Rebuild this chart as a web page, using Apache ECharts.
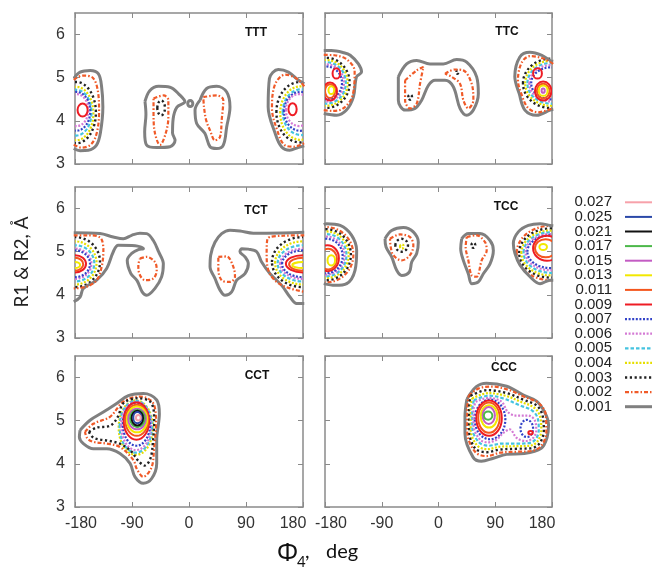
<!DOCTYPE html>
<html>
<head>
<meta charset="utf-8">
<script src="https://cdn.jsdelivr.net/npm/echarts@6/dist/echarts.min.js"></script>
<style>
  html, body { margin: 0; padding: 0; background: #fff; }
  #chart { width: 652px; height: 571px; }
</style>
</head>
<body>
<div id="chart"></div>
<script>
// contour levels, as in the legend (top to bottom)
const levels = [0.027, 0.025, 0.021, 0.017, 0.015, 0.013, 0.011, 0.009, 0.007, 0.006, 0.005, 0.004, 0.003, 0.002, 0.001];
const levelColors = ['#f7a1aa', '#2a48a8', '#111111', '#4cb84a', '#c35cc3', '#f2e800', '#f4561e', '#ee1c24',
                     '#3343c8', '#d47ad4', '#45c3e0', '#e6df00', '#222222', '#f05a28', '#808080'];
const levelDashes = [null, null, null, null, null, null, null, null,
                     [2, 1.6], [2, 1.6], [3.5, 2], [2, 1.6], [2.2, 2.6], [4, 2, 1.5, 2], null];
const levelWidths = [2, 2, 2, 2, 2, 2, 2, 2, 2.2, 2.2, 2.2, 2.2, 2.4, 2.2, 3];

const panelNames = ['TTT', 'TTC', 'TCT', 'TCC', 'CCT', 'CCC'];
const phiTicks = [-180, -90, 0, 90, 180];
const rTicks = [3, 4, 5, 6];
const rMax = 6.5;

// contour lines: [level, [[phi, r], ...]]
// lines that start beyond +-180 run off the panel edge and stay open
const tttLines = [
  [0.001, [[-182, 4.98], [-172, 5.13], [-156, 5.17], [-143, 5.09], [-138, 4.79], [-136, 4.32], [-140, 3.71], [-146, 3.44], [-159, 3.32], [-172, 3.31], [-182, 3.36]]],
  [0.002, [[-182, 4.95], [-168, 5.05], [-152, 5.0], [-144, 4.7], [-142, 4.2], [-146, 3.7], [-155, 3.45], [-170, 3.38], [-182, 3.45]]],
  [0.001, [[-69.5, 4.45], [-62, 4.7], [-48, 4.8], [-30, 4.78], [-16, 4.62], [-6.5, 4.44], [-19, 4.32], [-25, 4.05], [-26, 3.72], [-22, 3.55], [-30, 3.4], [-51, 3.38], [-67, 3.44], [-70, 3.75], [-68, 4.15]]],
  [0.002, [[-56, 4.52], [-40, 4.59], [-32.6, 4.48], [-32.6, 4.09], [-36.8, 3.71], [-45.8, 3.44], [-53.7, 3.71], [-56, 4.17]]],
  [0.001, [[17.4, 4.48], [27.9, 4.75], [43.7, 4.8], [59.5, 4.67], [64.7, 4.32], [59.5, 3.86], [54.2, 3.44], [43.7, 3.36], [33.2, 3.4], [25, 3.71], [12.1, 3.94], [9.5, 4.25]]],
  [0.002, [[22.6, 4.55], [43.7, 4.59], [54.2, 4.48], [51.6, 4.02], [49, 3.63], [41, 3.55], [33.2, 3.78], [27, 4.02], [23.7, 4.32]]],
  [0.001, [[182, 4.86], [173, 4.94], [157, 5.13], [141, 5.19], [127, 4.98], [125, 4.32], [136, 3.71], [146, 3.4], [159, 3.32], [172, 3.38], [182, 3.42]]],
  [0.002, [[182, 4.8], [170, 4.98], [152, 5.07], [136, 4.85], [131, 4.3], [140, 3.75], [150, 3.45], [165, 3.4], [182, 3.48]]]
];
const ttcLines = [
  [0.001, [[-182, 5.63], [-170, 5.63], [-150, 5.58], [-140, 5.52], [-127, 5.32], [-122, 5.13], [-130, 5.02], [-135, 4.55], [-146, 4.25], [-161.5, 4.13], [-182, 4.17]]],
  [0.002, [[-182, 5.53], [-165, 5.52], [-145, 5.42], [-133, 5.15], [-136, 4.6], [-150, 4.3], [-167, 4.23], [-182, 4.25]]],
  [0.001, [[-63.7, 5.02], [-50.5, 5.32], [-34.6, 5.4], [-13.5, 5.32], [7.7, 5.32], [28.8, 5.42], [44.7, 5.36], [60.5, 5.02], [63.2, 4.63], [55.3, 4.25], [44.7, 4.13], [34.1, 4.29], [23.5, 4.79], [10.3, 4.94], [-5.5, 4.94], [-16.1, 4.82], [-26.7, 4.48], [-37.2, 4.29], [-53, 4.25], [-63.7, 4.48]]],
  [0.002, [[-53, 4.94], [-34.6, 5.17], [-24, 5.25], [-29.3, 4.86], [-34.6, 4.4], [-45.2, 4.29], [-53, 4.48]]],
  [0.002, [[10.3, 5.09], [26.2, 5.19], [39.4, 5.17], [52.6, 4.86], [55.3, 4.48], [47.3, 4.29], [39.4, 4.48], [34.1, 4.86], [20.9, 5.02]]],
  [0.001, [[182, 5.38], [177, 5.4], [164, 5.52], [145, 5.59], [129, 5.48], [121, 5.02], [128, 4.63], [137, 4.25], [155.7, 4.13], [177, 4.25], [182, 4.27]]],
  [0.002, [[182, 5.32], [165, 5.45], [145, 5.5], [132, 5.35], [126, 4.95], [132, 4.6], [142, 4.3], [158, 4.2], [182, 4.3]]]
];
const tctLines = [
  [0.001, [[-182, 5.44], [-140.5, 5.42], [-119.5, 5.34], [-103.7, 5.3], [-90.5, 5.38], [-77.4, 5.43], [-66.8, 5.42], [-56.3, 5.26], [-48, 5.0], [-40.5, 4.72], [-43.2, 4.42], [-53.7, 4.15], [-66.8, 3.99], [-74, 4.07], [-82, 4.33], [-92, 4.5], [-97.5, 4.8], [-90.5, 4.96], [-80, 5.05], [-72, 5.07], [-85, 5.14], [-111.6, 5.15], [-119.5, 5.0], [-130, 4.61], [-145.8, 4.34], [-166.8, 4.15], [-172, 3.95], [-182, 3.84]]],
  [0.002, [[-182, 5.38], [-161.5, 5.38], [-140.5, 5.33], [-135.2, 5.03], [-137.9, 4.65], [-145.8, 4.34], [-161.5, 4.19], [-182, 4.15]]],
  [0.002, [[-77.4, 4.84], [-66.8, 4.88], [-53.7, 4.76], [-51, 4.57], [-56.3, 4.38], [-69.5, 4.34], [-78.4, 4.49], [-80, 4.69]]],
  [0.001, [[182, 5.45], [122.6, 5.43], [101.6, 5.43], [80.5, 5.48], [64.7, 5.5], [51.6, 5.42], [41, 5.22], [34.2, 4.92], [33.2, 4.65], [41, 4.38], [49, 4.11], [56.9, 3.99], [67.4, 4.07], [75.3, 4.34], [88.4, 4.49], [93.7, 4.72], [88.4, 4.88], [80.5, 5.0], [83.2, 5.07], [93.7, 5.06], [106.9, 5.0], [114.7, 4.76], [128, 4.49], [146.3, 4.22], [159.5, 3.95], [170, 3.8], [182, 3.8]]],
  [0.002, [[46.3, 4.88], [59.5, 4.89], [70, 4.65], [72.6, 4.42], [64.7, 4.3], [51.6, 4.34], [46.3, 4.61]]],
  [0.002, [[182, 5.38], [149, 5.37], [124, 5.3], [122.6, 4.96], [125.3, 4.57], [138.4, 4.3], [159.5, 4.15], [182, 4.07]]]
];
const tccLines = [
  [0.001, [[-182, 5.63], [-177.3, 5.65], [-156, 5.61], [-137.7, 5.38], [-129.8, 5.03], [-132.4, 4.57], [-145.6, 4.26], [-164, 4.22], [-182, 4.26]]],
  [0.001, [[-84.8, 5.3], [-74.3, 5.49], [-55.7, 5.56], [-40, 5.46], [-32, 5.22], [-34.6, 4.96], [-42.5, 4.76], [-46.2, 4.53], [-58.4, 4.45], [-66.3, 4.57], [-74.3, 4.88], [-83.2, 5.11]]],
  [0.002, [[-76.9, 5.3], [-61, 5.4], [-45.2, 5.34], [-39.9, 5.15], [-45.2, 4.92], [-58.4, 4.8], [-71.6, 4.92], [-75.8, 5.11]]],
  [0.001, [[36.8, 5.3], [47.3, 5.42], [65.8, 5.42], [81.7, 5.26], [87, 5.03], [81.7, 4.72], [71.1, 4.49], [63.2, 4.3], [52.6, 4.26], [47.3, 4.49], [39.4, 4.8], [35.2, 5.07]]],
  [0.002, [[44.7, 5.34], [60.5, 5.38], [73.8, 5.22], [76.4, 5.03], [68.5, 4.8], [60.5, 4.42], [52.6, 4.45], [47.3, 4.8], [43.1, 5.11]]],
  [0.001, [[182, 5.6], [176.8, 5.61], [161, 5.65], [142.5, 5.61], [126.6, 5.46], [118.7, 5.19], [121.3, 4.96], [129.3, 4.69], [145.1, 4.42], [161, 4.26], [176.8, 4.34], [182, 4.34]]]
];
const cctLines = [
  [0.001, [[-172, 4.78], [-156.3, 5.01], [-135.2, 5.2], [-114.2, 5.4], [-95.8, 5.58], [-72.1, 5.63], [-51, 5.48], [-46.8, 5.16], [-51, 4.55], [-51, 4.01], [-58.9, 3.66], [-72.1, 3.55], [-85.3, 3.7], [-93.1, 4.01], [-109, 4.24], [-130, 4.35], [-151, 4.35], [-166.8, 4.47], [-173.1, 4.62]]],
  [0.002, [[-164.2, 4.74], [-151, 4.93], [-124.7, 5.09], [-103.7, 5.44], [-77.4, 5.56], [-56.3, 5.4], [-52, 4.93], [-55, 4.39], [-58.9, 3.93], [-72.1, 3.7], [-82.6, 3.89], [-87.9, 4.09], [-109, 4.39], [-130, 4.47], [-151, 4.51], [-160.5, 4.59]]],
  [0.003, [[-158, 4.74], [-146, 4.84], [-125, 4.88], [-112, 5.1], [-104, 5.4], [-82, 5.52], [-60, 5.42], [-55, 5.0], [-57, 4.5], [-61, 4.12], [-70, 3.96], [-80, 4.07], [-92, 4.3], [-108, 4.46], [-125, 4.53], [-150, 4.6]]]
];
const cccLines = [
  [0.001, [[45, 5.5], [60, 5.79], [76, 5.87], [108, 5.8], [134, 5.6], [156, 5.45], [169, 5.18], [174.5, 4.9], [172, 4.6], [163, 4.36], [136, 4.24], [108, 4.22], [87, 4.13], [68, 4.06], [55, 4.15], [42, 4.7], [42, 5.1]]],
  [0.002, [[48, 5.58], [64, 5.75], [86, 5.79], [112, 5.71], [138, 5.54], [158, 5.42], [170, 5.15], [171, 4.74], [163, 4.42], [148, 4.3], [124, 4.28], [98, 4.26], [76, 4.18], [58, 4.28], [45.5, 4.75], [45.5, 5.25]]],
  [0.003, [[51, 5.58], [78, 5.71], [108, 5.64], [136, 5.48], [156, 5.35], [165, 5.12], [167, 4.78], [160, 4.47], [146, 4.36], [124, 4.35], [97, 4.33], [77, 4.27], [58, 4.36], [48.5, 4.8], [48.5, 5.28]]],
  [0.004, [[53.5, 5.52], [80, 5.64], [106, 5.58], [132, 5.43], [152, 5.3], [161, 5.1], [163, 4.79], [157, 4.52], [145, 4.42], [124, 4.41], [98, 4.4], [78, 4.34], [61, 4.43], [51, 4.82], [51, 5.27]]],
  [0.005, [[56, 5.47], [80, 5.58], [104, 5.51], [128, 5.36], [148, 5.24], [157, 5.07], [159, 4.79], [154, 4.57], [143, 4.48], [124, 4.47], [100, 4.47], [80, 4.42], [64, 4.5], [53.5, 4.85], [53.5, 5.25]]],
  [0.006, [[59, 5.44], [80, 5.53], [100, 5.44], [110, 5.2], [124, 5.12], [142, 5.12], [153, 5.0], [155, 4.77], [150, 4.6], [138, 4.53], [124, 4.6], [113, 4.8], [103, 4.72], [92, 4.56], [78, 4.5], [66, 4.56], [55.5, 4.9], [55.5, 5.25]]]
];

// small, nearly oval contours: [level, phi centre, r centre, phi half-width, r half-height]
const tttRings = [
  [0.003, -178, 4.19, 31, 0.71], [0.004, -178, 4.17, 27, 0.62], [0.005, -178, 4.19, 24, 0.53],
  [0.007, -178, 4.22, 22, 0.45], [0.006, -177, 4.25, 18, 0.37], [0.009, -168, 4.25, 8, 0.15],
  [0.003, -44, 4.3, 6, 0.17], [0.001, 2, 4.4, 4, 0.07],
  [0.003, 175, 4.2, 37, 0.7], [0.004, 176, 4.18, 32, 0.62], [0.005, 177, 4.2, 29, 0.53],
  [0.007, 176, 4.22, 26, 0.45], [0.006, 174, 4.25, 21, 0.37], [0.009, 163.5, 4.27, 6.5, 0.14]
];
const ttcRings = [
  [0.003, -178, 4.88, 37, 0.58], [0.004, -178, 4.88, 34, 0.53], [0.005, -178, 4.88, 31, 0.48],
  [0.006, -178, 4.88, 28, 0.43], [0.007, -178, 4.88, 25, 0.38],
  [0.009, -162, 5.1, 6, 0.12], [0.009, -172, 4.68, 11, 0.21], [0.011, -172, 4.69, 8, 0.16], [0.013, -170, 4.71, 4.5, 0.09],
  [0.003, -45, 4.55, 3, 0.06], [0.003, 30, 5.13, 1.5, 0.04],
  [0.003, 178, 4.87, 44, 0.57], [0.004, 178, 4.87, 40.5, 0.52], [0.005, 178, 4.87, 37, 0.47],
  [0.006, 178, 4.87, 34, 0.42], [0.007, 178, 4.87, 31, 0.37],
  [0.009, 157, 5.1, 7, 0.12], [0.009, 166, 4.69, 13, 0.22], [0.011, 166, 4.69, 10, 0.17],
  [0.013, 166, 4.7, 7, 0.12], [0.015, 166, 4.7, 2.5, 0.05]
];
const tctRings = [
  [0.003, -180, 4.76, 39.5, 0.58], [0.004, -180, 4.74, 34, 0.5], [0.005, -180, 4.73, 30.5, 0.42],
  [0.006, -180, 4.72, 26, 0.35], [0.007, -180, 4.72, 23.7, 0.31], [0.009, -180, 4.72, 17.4, 0.2],
  [0.011, -180, 4.71, 13, 0.15], [0.013, -180, 4.69, 8, 0.07],
  [0.003, 180, 4.76, 49, 0.58], [0.004, 180, 4.74, 44, 0.5], [0.005, 180, 4.73, 40, 0.42],
  [0.006, 180, 4.72, 36, 0.35], [0.007, 180, 4.72, 33, 0.31], [0.009, 180, 4.72, 27, 0.2],
  [0.011, 180, 4.71, 22, 0.15], [0.013, 180, 4.69, 17, 0.07]
];
const tccRings = [
  [0.002, -178, 4.93, 43, 0.64], [0.003, -178, 4.93, 39, 0.59], [0.004, -178, 4.93, 35.5, 0.54],
  [0.005, -178, 4.92, 32, 0.49], [0.006, -178, 4.91, 29, 0.44], [0.007, -178, 4.9, 26, 0.4],
  [0.009, -176, 4.85, 18, 0.3], [0.011, -175, 4.83, 14, 0.24], [0.013, -170, 4.8, 6, 0.12],
  [0.003, -58.4, 5.15, 10, 0.15], [0.004, -58, 5.12, 3, 0.05], [0.003, 55.3, 5.15, 3, 0.06],
  [0.002, 178, 4.97, 54, 0.63], [0.003, 178, 4.97, 50, 0.57], [0.004, 178, 4.97, 46.5, 0.52],
  [0.005, 178, 4.98, 43, 0.47], [0.006, 178, 4.99, 40, 0.42], [0.007, 178, 5.0, 37, 0.38],
  [0.009, 172, 5.08, 22, 0.29], [0.011, 170, 5.08, 17, 0.21], [0.013, 166, 5.11, 6, 0.07]
];
const cctRings = [
  [0.004, -84, 4.84, 27, 0.63], [0.005, -84, 4.86, 25.5, 0.6], [0.006, -83.5, 4.88, 23.5, 0.56],
  [0.007, -83, 4.92, 21.5, 0.5], [0.009, -83, 4.99, 20, 0.43], [0.011, -82.5, 5.01, 18, 0.36],
  [0.013, -82, 5.03, 16, 0.3], [0.015, -82, 5.04, 14, 0.24], [0.017, -81.5, 5.05, 11.5, 0.2],
  [0.021, -81.5, 5.06, 9, 0.17], [0.025, -81.5, 5.07, 6.5, 0.13], [0.027, -80, 5.07, 3.8, 0.065]
];
const cccRings = [
  [0.007, 81.7, 5.03, 24.3, 0.46], [0.007, 140, 4.82, 10, 0.2], [0.009, 146, 4.72, 3.5, 0.04],
  [0.009, 80.2, 5.06, 20.2, 0.41], [0.011, 80, 5.07, 17, 0.35], [0.013, 80.2, 5.1, 13.2, 0.26],
  [0.015, 79.7, 5.12, 9.7, 0.195], [0.017, 78.7, 5.12, 6.7, 0.095]
];

const panelLines = [tttLines, ttcLines, tctLines, tccLines, cctLines, cccLines];
const panelRings = [tttRings, ttcRings, tctRings, tccRings, cctRings, cccRings];

// layout: [left, top, width, height] of each panel
const boxes = [[75, 13, 228, 151], [325, 13, 227, 151],
               [75, 187, 228, 151], [325, 187, 227, 151],
               [75, 356, 228, 151], [325, 356, 227, 151]];
const frameColor = '#8a8a8a';
const tickFont = 'Liberation Sans';

const chart = echarts.init(document.getElementById('chart'), null, { renderer: 'canvas' });

const grid = boxes.map(b => ({ left: b[0], top: b[1], width: b[2], height: b[3] }));

function makeAxis(kind, i, pos, labels) {
  const isX = kind === 'x';
  const lo = isX ? phiTicks[0] : rTicks[0];
  const hi = isX ? phiTicks[phiTicks.length - 1] : rMax;
  const label = { show: labels, fontSize: 16, color: '#333', fontFamily: tickFont, margin: isX ? 9 : 10,
                  showMinLabel: true, showMaxLabel: isX };
  if (isX) {
    // end labels sit a little inside the panel, as in the original
    label.formatter = v => v === lo ? '{lo|' + v + '}' : v === hi ? '{hi|' + v + '}' : String(v);
    label.rich = {
      lo: { fontSize: 16, color: '#333', fontFamily: tickFont, padding: [0, 0, 0, 12] },
      hi: { fontSize: 16, color: '#333', fontFamily: tickFont, padding: [0, 20, 0, 0] }
    };
  }
  return {
    type: 'value', gridIndex: i, position: pos,
    min: lo, max: hi,
    interval: isX ? phiTicks[1] - phiTicks[0] : rTicks[1] - rTicks[0],
    axisLine: { show: true, onZero: false, lineStyle: { color: frameColor, width: 1.5 } },
    axisTick: { show: true, inside: true, length: 5, lineStyle: { color: frameColor, width: 1 } },
    axisLabel: label,
    splitLine: { show: false }
  };
}

const xAxis = [], yAxis = [];
boxes.forEach((b, i) => xAxis.push(makeAxis('x', i, 'bottom', i >= 4)));
boxes.forEach((b, i) => xAxis.push(makeAxis('x', i, 'top', false)));
boxes.forEach((b, i) => yAxis.push(makeAxis('y', i, 'left', i % 2 === 0)));
boxes.forEach((b, i) => yAxis.push(makeAxis('y', i, 'right', false)));

const series = [];
panelLines.forEach((lines, i) => {
  lines.forEach(([v, pts]) => {
    const k = levels.indexOf(v);
    const open = Math.abs(pts[0][0]) > 180;
    series.push({
      type: 'line', xAxisIndex: i, yAxisIndex: i,
      data: open ? pts : pts.concat([pts[0]]),
      smooth: 0.35, symbol: 'none', silent: true, animation: false,
      lineStyle: { color: levelColors[k], width: levelWidths[k], type: levelDashes[k] || 'solid' }
    });
  });
});
panelRings.forEach((rings, i) => {
  series.push({
    type: 'custom', xAxisIndex: i, yAxisIndex: i, silent: true, animation: false,
    dimensions: ['level', 'phi', 'r', 'dphi', 'dr'],
    encode: { x: 1, y: 2 },
    data: rings,
    renderItem(params, api) {
      const k = levels.indexOf(api.value(0));
      const c = api.coord([api.value(1), api.value(2)]);
      const s = api.size([api.value(3), api.value(4)]);
      const cs = params.coordSys;
      return {
        type: 'ellipse',
        shape: { cx: c[0], cy: c[1], rx: s[0], ry: s[1] },
        style: { fill: 'none', stroke: levelColors[k], lineWidth: levelWidths[k], lineDash: levelDashes[k] },
        clipPath: { type: 'rect', shape: { x: cs.x, y: cs.y, width: cs.width, height: cs.height } }
      };
    }
  });
});

// panel titles, legend and axis names
const titlePos = [[256, 33], [507, 32], [256, 211], [506, 207], [257, 376], [504, 368]];
const graphic = [];
panelNames.forEach((n, i) => graphic.push({
  type: 'text', x: titlePos[i][0], y: titlePos[i][1], silent: true,
  style: { text: n, font: 'bold 12px "Liberation Sans"', fill: '#111', align: 'center', verticalAlign: 'middle' }
}));
levels.forEach((v, k) => {
  const y = 202.3 + k * 14.6;
  graphic.push({
    type: 'text', x: 612, y: y, silent: true,
    style: { text: v.toFixed(3), font: '15px "Liberation Sans"', fill: '#222', align: 'right', verticalAlign: 'middle' }
  });
  graphic.push({
    type: 'line', silent: true,
    shape: { x1: 625, y1: y, x2: 654, y2: y },
    style: { stroke: levelColors[k], lineWidth: levelWidths[k], lineDash: levelDashes[k] }
  });
});
graphic.push({
  type: 'text', x: 22, y: 262, rotation: Math.PI / 2, silent: true,
  style: { text: 'R1 & R2, Å', font: '19px Lato', fill: '#222', align: 'center', verticalAlign: 'middle' }
});
graphic.push({
  type: 'text', x: 277, y: 554, silent: true,
  style: { text: 'Φ', font: '25px "Noto Sans"', fill: '#111', align: 'left', verticalAlign: 'middle' }
});
graphic.push({
  type: 'text', x: 297, y: 562, silent: true,
  style: { text: '4', font: '15px Lato', fill: '#111', align: 'left', verticalAlign: 'middle' }
});
graphic.push({
  type: 'text', x: 305, y: 552, silent: true,
  style: { text: ',', font: '20px Lato', fill: '#111', align: 'left', verticalAlign: 'middle' }
});
graphic.push({
  type: 'text', x: 326, y: 552, silent: true,
  style: { text: 'deg', font: '20px Lato', fill: '#111', align: 'left', verticalAlign: 'middle' }
});

chart.setOption({
  backgroundColor: '#ffffff',
  animation: false,
  grid: grid,
  xAxis: xAxis,
  yAxis: yAxis,
  series: series,
  graphic: graphic
});
</script>
</body>
</html>
